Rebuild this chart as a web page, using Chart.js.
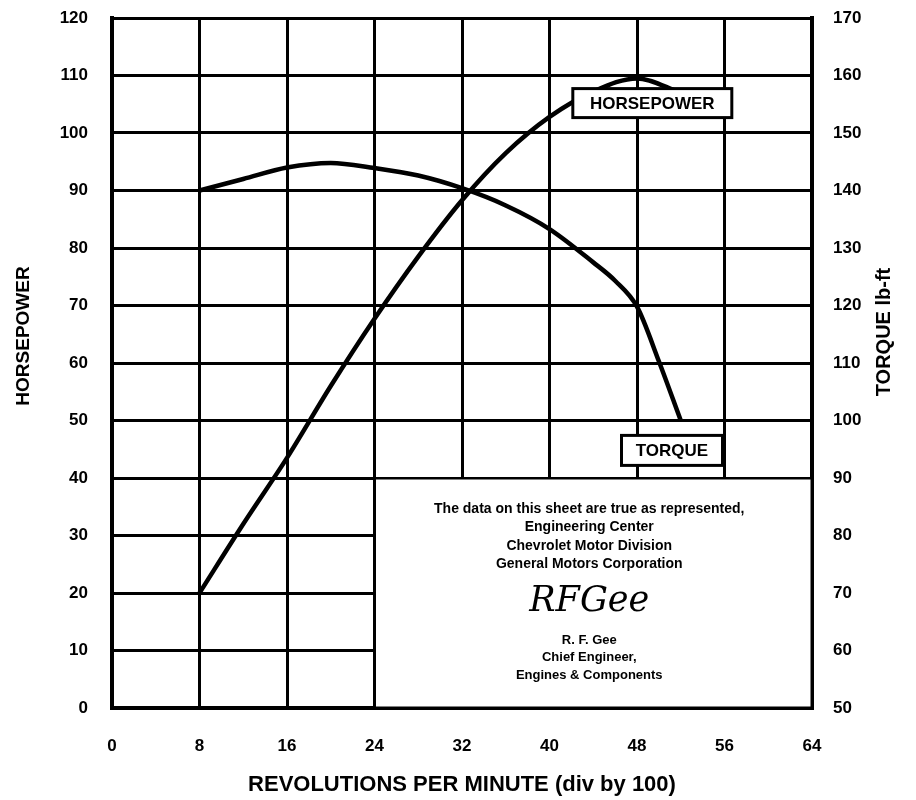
<!DOCTYPE html>
<html>
<head>
<meta charset="utf-8">
<script src="https://cdn.jsdelivr.net/npm/chart.js@4.4.1/dist/chart.umd.min.js"></script>
<style>
  html, body { margin: 0; padding: 0; background: #fff; }
  #wrap { width: 916px; height: 800px; }
</style>
</head>
<body>
<div id="wrap"><canvas id="engineChart"></canvas></div>
<script>
// values (rpm in hundreds)
const hpRpm = [8, 12, 16, 20, 24, 28, 32, 36, 40, 44, 48, 52];
const horsepower = [20, 32, 43.5, 56, 67.7, 78.5, 88.3, 96.5, 102.8, 107.2, 109.5, 107];
const torqueRpm = [8, 12, 16, 20, 24, 28, 32, 36, 40, 44, 46, 48, 50, 52];
const torque = [140, 142, 144, 144.8, 143.9, 142.6, 140.4, 137.4, 133.3, 127.5, 124.3, 119.8, 110.3, 100];

const rpmTicks = [0, 8, 16, 24, 32, 40, 48, 56, 64];
const hpTicks = [0, 10, 20, 30, 40, 50, 60, 70, 80, 90, 100, 110, 120];
const torqueTicks = [50, 60, 70, 80, 90, 100, 110, 120, 130, 140, 150, 160, 170];

const certLines = [
    'The data on this sheet are true as represented,',
    'Engineering Center',
    'Chevrolet Motor Division',
    'General Motors Corporation'
];
const signerLines = ['R. F. Gee', 'Chief Engineer,', 'Engines & Components'];

const FONT = "'Liberation Sans', Arial, Helvetica, sans-serif";

function toPoints(xs, ys) {
    return xs.map((x, i) => ({ x: x, y: ys[i] }));
}

// white certification box in the lower right, plus curve labels and axis titles
const sheetPlugin = {
    id: 'sheet',
    beforeDatasetsDraw(chart) {
        const { ctx, scales } = chart;
        const x0 = scales.x.getPixelForValue(24);
        const x1 = scales.x.getPixelForValue(64);
        const y0 = scales.y.getPixelForValue(40);
        const y1 = scales.y.getPixelForValue(0);
        ctx.save();
        ctx.fillStyle = '#fff';
        ctx.fillRect(x0 + 1.5, y0 + 1.5, x1 - x0 - 3, y1 - y0 - 3);

        const cx = (x0 + x1) / 2 - 4;
        ctx.fillStyle = '#000';
        ctx.textAlign = 'center';
        ctx.textBaseline = 'middle';
        ctx.font = 'bold 14px ' + FONT;
        certLines.forEach((t, i) => ctx.fillText(t, cx, y0 + 31 + i * 18.5));
        ctx.font = 'italic 35px "DejaVu Serif", serif';
        ctx.fillText('RFGee', cx, y0 + 124);
        ctx.font = 'bold 13px ' + FONT;
        signerLines.forEach((t, i) => ctx.fillText(t, cx, y0 + 162 + i * 17.5));
        ctx.restore();
    },
    afterDatasetsDraw(chart) {
        const { ctx, scales } = chart;
        const boxLabel = (text, xv, yv, w, h) => {
            const cx = scales.x.getPixelForValue(xv);
            const cy = scales.y.getPixelForValue(yv);
            ctx.save();
            ctx.fillStyle = '#fff';
            ctx.fillRect(cx - w / 2, cy - h / 2, w, h);
            ctx.strokeStyle = '#000';
            ctx.lineWidth = 3;
            ctx.strokeRect(cx - w / 2, cy - h / 2, w, h);
            ctx.fillStyle = '#000';
            ctx.font = 'bold 17px ' + FONT;
            ctx.textAlign = 'center';
            ctx.textBaseline = 'middle';
            ctx.fillText(text, cx, cy + 1);
            ctx.restore();
        };
        boxLabel('HORSEPOWER', 49.4, 105.2, 159, 29);
        boxLabel('TORQUE', 51.2, 44.8, 101, 30);

        // axis titles
        ctx.save();
        ctx.fillStyle = '#000';
        ctx.font = 'bold 19px ' + FONT;
        ctx.textAlign = 'center';
        ctx.textBaseline = 'middle';
        ctx.translate(24, 336);
        ctx.rotate(-Math.PI / 2);
        ctx.fillText('HORSEPOWER', 0, 0);
        ctx.restore();

        ctx.save();
        ctx.fillStyle = '#000';
        ctx.font = 'bold 20px ' + FONT;
        ctx.textAlign = 'center';
        ctx.textBaseline = 'middle';
        ctx.translate(884, 332);
        ctx.rotate(-Math.PI / 2);
        ctx.fillText('TORQUE lb-ft', 0, 0);
        ctx.restore();

        ctx.save();
        ctx.fillStyle = '#000';
        ctx.font = 'bold 22px ' + FONT;
        ctx.textAlign = 'center';
        ctx.textBaseline = 'middle';
        ctx.fillText('REVOLUTIONS PER MINUTE (div by 100)', 462, 785);
        ctx.restore();
    }
};

const tickFont = { family: FONT, size: 17, weight: 'bold' };

// keep the vertical axes from reserving extra room above/below the plot
function fixVertical(width) {
    return s => {
        s.width = width;
        s.paddingTop = 0;
        s.paddingBottom = 0;
    };
}

new Chart(document.getElementById('engineChart'), {
    type: 'line',
    data: {
        datasets: [
            {
                label: 'HORSEPOWER',
                data: toPoints(hpRpm, horsepower),
                yAxisID: 'y',
                borderColor: '#000',
                borderWidth: 4.5,
                pointRadius: 0,
                cubicInterpolationMode: 'monotone'
            },
            {
                label: 'TORQUE',
                data: toPoints(torqueRpm, torque),
                yAxisID: 'y1',
                borderColor: '#000',
                borderWidth: 4.5,
                pointRadius: 0,
                cubicInterpolationMode: 'monotone'
            }
        ]
    },
    options: {
        responsive: true,
        maintainAspectRatio: false,
        animation: false,
        layout: { padding: { top: 18, left: 0, right: 0, bottom: 0 } },
        plugins: {
            legend: { display: false },
            tooltip: { enabled: false }
        },
        scales: {
            x: {
                type: 'linear',
                min: 0,
                max: 64,
                afterBuildTicks: s => { s.ticks = rpmTicks.map(v => ({ value: v })); },
                afterFit: s => { s.height = 92; s.paddingLeft = 0; s.paddingRight = 0; },
                ticks: { color: '#000', font: tickFont, padding: 28 },
                grid: { color: '#000', lineWidth: 3, drawTicks: false },
                border: { color: '#000', width: 4 }
            },
            y: {
                position: 'left',
                min: 0,
                max: 120,
                afterBuildTicks: s => { s.ticks = hpTicks.map(v => ({ value: v })); },
                afterFit: fixVertical(112),
                ticks: { color: '#000', font: tickFont, padding: 24 },
                grid: { color: '#000', lineWidth: 3, drawTicks: false },
                border: { color: '#000', width: 4 }
            },
            y1: {
                position: 'right',
                min: 50,
                max: 170,
                afterBuildTicks: s => { s.ticks = torqueTicks.map(v => ({ value: v })); },
                afterFit: fixVertical(916 - 812),
                ticks: { color: '#000', font: tickFont, padding: 21 },
                grid: { display: false, drawTicks: false },
                border: { color: '#000', width: 4 }
            }
        }
    },
    plugins: [sheetPlugin]
});
</script>
</body>
</html>
